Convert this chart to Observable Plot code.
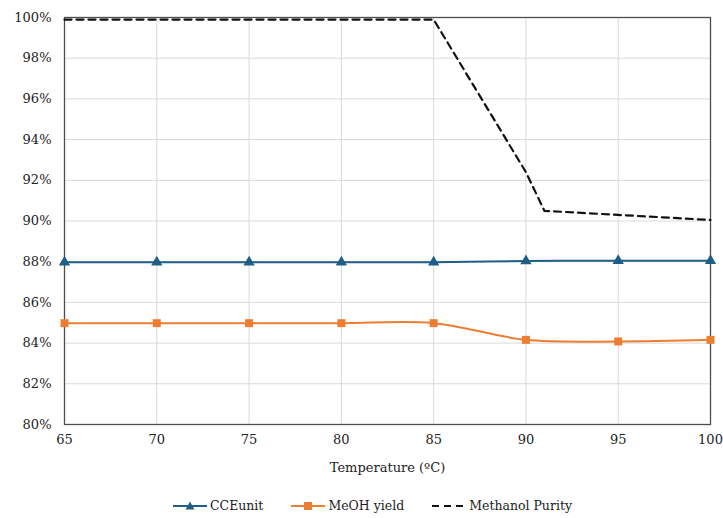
<!DOCTYPE html>
<html>
<head>
<meta charset="utf-8">
<script src="https://cdn.jsdelivr.net/npm/d3@7"></script>
<script src="https://cdn.jsdelivr.net/npm/@observablehq/plot@0.6"></script>
<style>
  html, body { margin: 0; padding: 0; background: #fff; }
  body { width: 723px; height: 518px; overflow: hidden; font-family: "DejaVu Serif", serif; }
  #legend { display: flex; justify-content: center; align-items: center; gap: 28px; font-size: 12.5px; color: #222; margin-top: 6px; padding-left: 22px; font-family: "DejaVu Serif", serif; }
  #legend .item { display: flex; align-items: center; gap: 3px; }
</style>
</head>
<body>
<div id="chart"></div>
<div id="legend"></div>
<script>
const temps = [65, 70, 75, 80, 85, 90, 95, 100];
const cceUnit = [87.97, 87.97, 87.97, 87.97, 87.97, 88.03, 88.05, 88.05];
const meohYield = [84.98, 84.98, 84.98, 84.98, 84.98, 84.16, 84.08, 84.16];
const purityTemps = [65, 70, 75, 80, 85, 90, 91, 95, 100];
const purity = [99.9, 99.9, 99.9, 99.9, 99.9, 92.4, 90.5, 90.3, 90.05];
const xTicks = [65, 70, 75, 80, 85, 90, 95, 100];
const yTicks = [80, 82, 84, 86, 88, 90, 92, 94, 96, 98, 100];
const seriesNames = ["CCEunit", "MeOH yield", "Methanol Purity"];
const colors = ["#1f5f85", "#ed7d31", "#111111"];

const cceData = temps.map((t, i) => ({t, v: cceUnit[i]}));
const meohData = temps.map((t, i) => ({t, v: meohYield[i]}));
const purData = purityTemps.map((t, i) => ({t, v: purity[i]}));

const chart = Plot.plot({
  width: 723,
  height: 492,
  marginLeft: 64,
  marginRight: 13,
  marginTop: 17,
  marginBottom: 68,
  style: { fontFamily: "'DejaVu Serif', serif", fontSize: "13px", color: "#222", background: "#fff" },
  x: { domain: [65, 100], ticks: xTicks, tickSize: 0, tickPadding: 10, label: "Temperature (ºC)", labelAnchor: "center", labelArrow: "none", labelOffset: 47 },
  y: { domain: [80, 100], ticks: yTicks, tickSize: 0, tickPadding: 13, tickFormat: d => d + "%", label: null },
  marks: [
    Plot.gridX(xTicks, { stroke: "#d9d9d9", strokeOpacity: 1 }),
    Plot.gridY(yTicks, { stroke: "#d9d9d9", strokeOpacity: 1 }),
    Plot.frame({ stroke: "#4d4d4d", strokeWidth: 1.3 }),
    Plot.line(purData, { x: "t", y: "v", stroke: colors[2], strokeWidth: 2.2, strokeDasharray: "7,5" }),
    Plot.line(cceData, { x: "t", y: "v", stroke: colors[0], strokeWidth: 2, curve: "catmull-rom" }),
    Plot.dot(cceData, { x: "t", y: "v", symbol: "triangle", fill: colors[0], r: 4.2 }),
    Plot.line(meohData, { x: "t", y: "v", stroke: colors[1], strokeWidth: 2, curve: "catmull-rom" }),
    Plot.dot(meohData, { x: "t", y: "v", symbol: "square", fill: colors[1], r: 4.5 })
  ]
});
document.getElementById("chart").appendChild(chart);

const legend = document.getElementById("legend");
const samples = [
  `<svg width="34" height="12"><line x1="0" y1="6" x2="34" y2="6" stroke="${colors[0]}" stroke-width="2"/><path d="M17,1.5 L21.5,9.5 L12.5,9.5 Z" fill="${colors[0]}"/></svg>`,
  `<svg width="34" height="12"><line x1="0" y1="6" x2="34" y2="6" stroke="${colors[1]}" stroke-width="2"/><rect x="13" y="2" width="8" height="8" fill="${colors[1]}"/></svg>`,
  `<svg width="34" height="12"><line x1="0" y1="6" x2="34" y2="6" stroke="${colors[2]}" stroke-width="2.2" stroke-dasharray="7,5"/></svg>`
];
seriesNames.forEach((name, i) => {
  const it = document.createElement("div");
  it.className = "item";
  it.innerHTML = samples[i] + `<span>${name}</span>`;
  legend.appendChild(it);
});
</script>
</body>
</html>
